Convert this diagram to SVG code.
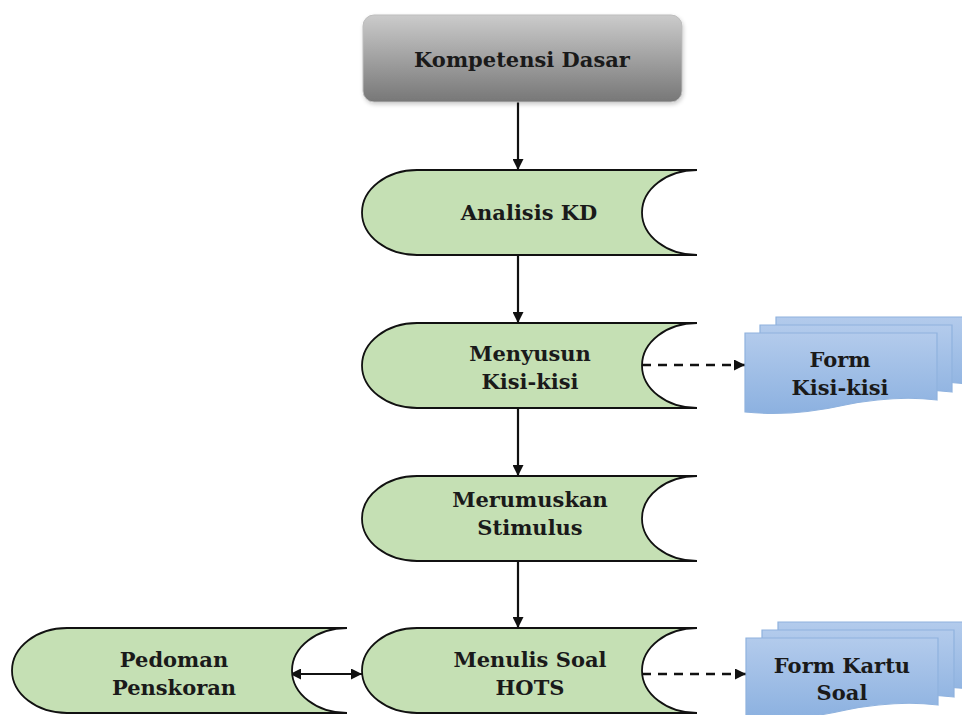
<svg xmlns="http://www.w3.org/2000/svg" width="962" height="715" viewBox="0 0 962 715">
<defs>
<linearGradient id="gray" x1="0" y1="0" x2="0" y2="1">
<stop offset="0" stop-color="#cbcbcb"/>
<stop offset="1" stop-color="#777777"/>
</linearGradient>
<linearGradient id="blue" x1="0" y1="0" x2="0" y2="1">
<stop offset="0" stop-color="#b3cbec"/>
<stop offset="1" stop-color="#8cb1e0"/>
</linearGradient>
<filter id="sh" x="-10%" y="-10%" width="125%" height="130%">
<feGaussianBlur in="SourceAlpha" stdDeviation="2"/>
<feOffset dx="1" dy="2" result="b"/>
<feComponentTransfer><feFuncA type="linear" slope="0.2"/></feComponentTransfer>
<feMerge><feMergeNode/><feMergeNode in="SourceGraphic"/></feMerge>
</filter>
<marker id="ah" viewBox="0 0 10 10" refX="10" refY="5" markerWidth="11" markerHeight="11" markerUnits="userSpaceOnUse" orient="auto-start-reverse">
<path d="M0,0 L10,5 L0,10 Z" fill="#111"/>
</marker>
<path id="sd" d="M55,0 H335 A55,42.5 0 0 0 335,85 H55 A55,42.5 0 0 1 55,0 Z"/>
<path id="doc" d="M0,0 H192 V67 C160,63 130,66 100,72 C65,80 30,82 0,79 Z"/>
</defs>
<style>
.t{font-family:"DejaVu Serif","Liberation Serif",serif;font-weight:bold;font-size:21px;fill:#1a1a1a;text-anchor:middle}
.sd{fill:#c5e0b4;stroke:#111;stroke-width:1.8}
.doc{fill:url(#blue);stroke:#8fb2de;stroke-width:1.2}
.ln{stroke:#111;stroke-width:2.2;fill:none}
.dl{stroke:#111;stroke-width:2.5;fill:none;stroke-dasharray:9,7}
</style>

<g id="connectors">
<line class="ln" x1="518" y1="102" x2="518" y2="170" marker-end="url(#ah)"/>
<line class="ln" x1="518" y1="255" x2="518" y2="323" marker-end="url(#ah)"/>
<line class="ln" x1="518" y1="408" x2="518" y2="476" marker-end="url(#ah)"/>
<line class="ln" x1="518" y1="561" x2="518" y2="628" marker-end="url(#ah)"/>
<line class="dl" x1="642" y1="365" x2="745" y2="365" marker-end="url(#ah)"/>
<line class="dl" x1="642" y1="674" x2="746" y2="674" marker-end="url(#ah)"/>
<line class="ln" x1="290" y1="674" x2="362" y2="674" marker-start="url(#ah)" marker-end="url(#ah)"/>
</g>

<g id="kompetensi-dasar">
<rect x="363" y="15" width="319" height="87" rx="11" fill="url(#gray)" stroke="#bdbdbd" stroke-width="1" filter="url(#sh)"/>
<text class="t" x="522" y="67">Kompetensi Dasar</text>
</g>

<g id="analisis-kd">
<use href="#sd" class="sd" x="362" y="170"/>
<text class="t" x="529" y="220">Analisis KD</text>
</g>

<g id="menyusun-kisi-kisi">
<use href="#sd" class="sd" x="362" y="323"/>
<text class="t" x="530" y="361">Menyusun</text>
<text class="t" x="530" y="389">Kisi-kisi</text>
</g>

<g id="merumuskan-stimulus">
<use href="#sd" class="sd" x="362" y="476"/>
<text class="t" x="530" y="507">Merumuskan</text>
<text class="t" x="530" y="535">Stimulus</text>
</g>

<g id="menulis-soal-hots">
<use href="#sd" class="sd" x="362" y="628"/>
<text class="t" x="530" y="667">Menulis Soal</text>
<text class="t" x="530" y="695">HOTS</text>
</g>

<g id="pedoman-penskoran">
<use href="#sd" class="sd" x="12" y="628"/>
<text class="t" x="174" y="667">Pedoman</text>
<text class="t" x="174" y="695">Penskoran</text>
</g>

<g id="form-kisi-kisi">
<use href="#doc" class="doc" x="776" y="317"/>
<use href="#doc" class="doc" x="760" y="325"/>
<use href="#doc" class="doc" x="745" y="333"/>
<text class="t" x="840" y="367">Form</text>
<text class="t" x="840" y="395">Kisi-kisi</text>
</g>

<g id="form-kartu-soal">
<use href="#doc" class="doc" x="778" y="622"/>
<use href="#doc" class="doc" x="762" y="630"/>
<use href="#doc" class="doc" x="746" y="638"/>
<text class="t" x="842" y="673">Form Kartu</text>
<text class="t" x="842" y="700">Soal</text>
</g>
</svg>
